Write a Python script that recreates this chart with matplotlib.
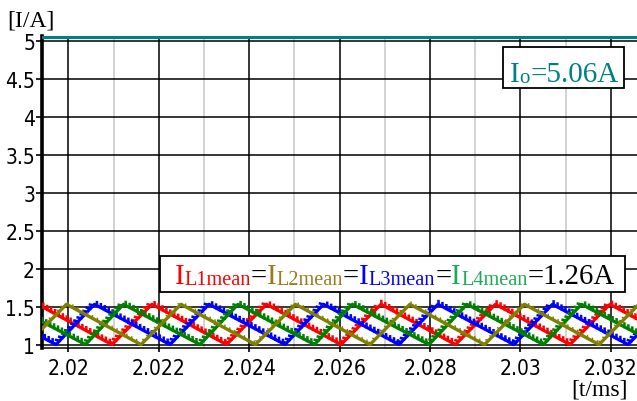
import matplotlib
matplotlib.use("Agg")
import matplotlib.pyplot as plt
import matplotlib.patheffects as pe
from matplotlib.patches import Rectangle
from matplotlib.transforms import IdentityTransform
from matplotlib import font_manager

# vertex times [ms] and currents [A] of the four inductor currents
t_L1 = [2.019314, 2.020962, 2.021847, 2.023496, 2.024381, 2.026029, 2.026914,
        2.028562, 2.029447, 2.031095, 2.031980, 2.033628]
i_L1 = [1.54, 1.01, 1.54, 1.01, 1.54, 1.01, 1.54, 1.01, 1.54, 1.01, 1.54, 1.01]

t_L2 = [2.019071, 2.019956, 2.021604, 2.022489, 2.024137, 2.025022, 2.026670,
        2.027555, 2.029204, 2.030088, 2.031737, 2.032621]
i_L2 = [1.01, 1.54, 1.01, 1.54, 1.01, 1.54, 1.01, 1.54, 1.01, 1.54, 1.01, 1.54]

t_L3 = [2.018042, 2.019723, 2.020575, 2.022246, 2.023108, 2.024790, 2.025642,
        2.027312, 2.028175, 2.029856, 2.030708, 2.032378, 2.033241]
i_L3 = [1.54, 1.01, 1.54, 1.01, 1.54, 1.01, 1.54, 1.01, 1.54, 1.01, 1.54, 1.01, 1.54]

t_L4 = [2.018684, 2.020376, 2.021217, 2.022909, 2.023750, 2.025442, 2.026283,
        2.027976, 2.028816, 2.030509, 2.031350, 2.033042]
i_L4 = [1.54, 1.01, 1.54, 1.01, 1.54, 1.01, 1.54, 1.01, 1.54, 1.01, 1.54, 1.01]

i_out = 5.06
x_ticks = [2.020, 2.022, 2.024, 2.026, 2.028, 2.030, 2.032]
x_tick_labels = ["2.02", "2.022", "2.024", "2.026", "2.028", "2.03", "2.032"]
x_minor = [2.021, 2.023, 2.025, 2.027, 2.029, 2.031]
y_ticks = [1, 1.5, 2, 2.5, 3, 3.5, 4, 4.5, 5]
y_tick_labels = ["1", "1.5", "2", "2.5", "3", "3.5", "4", "4.5", "5"]

SERIF = ["Liberation Serif", "DejaVu Serif"]
# condensed sans for the tick numbers, if one is installed
cond = [f for f in font_manager.fontManager.ttflist
        if f.stretch in ("condensed", "semi-condensed", 75, 87) or "Condensed" in f.fname
        or "Narrow" in f.fname]
tick_font = font_manager.FontProperties(family="DejaVu Sans", size=15)
if cond:
    tick_font = font_manager.FontProperties(fname=cond[0].fname, size=15)
    for f in cond:
        if "Sans" in f.name and "Bold" not in f.fname and "Oblique" not in f.fname \
                and "Italic" not in f.fname and "Mono" not in f.fname:
            tick_font = font_manager.FontProperties(fname=f.fname, size=15)
            break

fig = plt.figure(figsize=(6.37, 4.02), dpi=100)
ax = fig.add_axes([42 / 637, 53 / 402, 595 / 637, 312 / 402])
ax.set_xlim(2.019414, 2.032578)
ax.set_ylim(0.965, 5.07)

ax.set_xticks(x_ticks)
ax.set_xticklabels(x_tick_labels, fontproperties=tick_font)
ax.set_xticks(x_minor, minor=True)
ax.set_yticks(y_ticks)
ax.set_yticklabels(y_tick_labels, fontproperties=tick_font)
ax.tick_params(axis="y", length=4, width=1.2, pad=1)
ax.tick_params(axis="x", which="major", length=3, width=1.2, pad=4)
ax.tick_params(axis="x", which="minor", length=0)

ax.grid(True, which="major", color="black", lw=1.1)
ax.grid(True, which="minor", axis="x", color="#c8c8c8", lw=1.1)
ax.set_axisbelow(True)
for s in ["top", "right"]:
    ax.spines[s].set_visible(False)
ax.spines["left"].set_linewidth(2.6)
ax.spines["bottom"].set_linewidth(1.1)

ax.axhline(i_out, color="#008080", lw=2.3, zorder=3)

ticked = [pe.withTickedStroke(spacing=3.2, angle=120, length=0.8, linewidth=1.8)]
ax.plot(t_L1, i_L1, color="#ff0000", lw=2.3, path_effects=ticked, zorder=4)
ax.plot(t_L3, i_L3, color="#0000ff", lw=2.3, path_effects=ticked, zorder=4)
ax.plot(t_L4, i_L4, color="#008000", lw=2.3, path_effects=ticked, zorder=4)
ax.plot(t_L2, i_L2, color="#808000", lw=2.4, zorder=5,
        path_effects=[pe.withTickedStroke(spacing=4, angle=120, length=0.5, linewidth=1.0)])

# axis unit labels
fig.text(7, 402 - 27, "[I/A]", transform=IdentityTransform(), family=SERIF,
         fontsize=17, va="baseline")
fig.text(628, 402 - 396, "[t/ms]", transform=IdentityTransform(), family=SERIF,
         fontsize=17, va="baseline", ha="right")


def rich_text(x, y, pieces):
    renderer = fig.canvas.get_renderer()
    for s, color, size, dy in pieces:
        t = fig.text(x, y + dy, s, transform=IdentityTransform(), family=SERIF,
                     fontsize=size, color=color, va="baseline", zorder=10)
        x = t.get_window_extent(renderer).x1


fig.add_artist(Rectangle((503, 402 - 89), 121, 41, transform=IdentityTransform(),
                         facecolor="white", edgecolor="black", lw=1.3, zorder=9))
rich_text(510, 402 - 82, [("I", "#008080", 21, 0), ("o", "#008080", 15, -1),
                          ("=5.06A", "#008080", 21, 0)])

fig.add_artist(Rectangle((160, 402 - 293), 465, 36, transform=IdentityTransform(),
                         facecolor="white", edgecolor="black", lw=1.3, zorder=9))
big, small = 20.7, 14.6
rich_text(175, 402 - 284, [
    ("I", "#ff0000", big, 0), ("L1mean", "#ff0000", small, -1.5), ("=", "black", big, 0),
    ("I", "#9a7b1c", big, 0), ("L2mean", "#9a7b1c", small, -1.5), ("=", "black", big, 0),
    ("I", "#0000ff", big, 0), ("L3mean", "#0000ff", small, -1.5), ("=", "black", big, 0),
    ("I", "#1daa55", big, 0), ("L4mean", "#1daa55", small, -1.5), ("=1.26A", "black", big, 0),
])

fig.savefig("out.png", dpi=100)
